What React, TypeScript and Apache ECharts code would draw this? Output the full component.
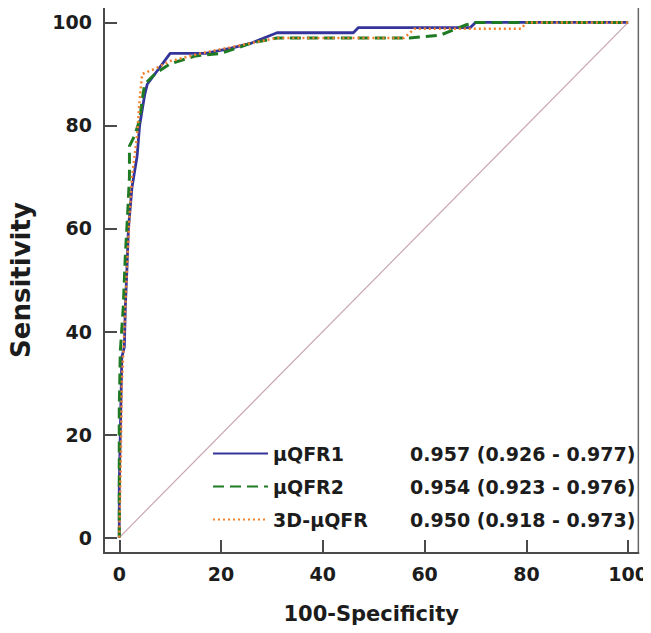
import React, { useEffect, useRef } from "react";
import * as echarts from "echarts";

const tickValues = [0, 20, 40, 60, 80, 100];
const seriesNames = ["μQFR1", "μQFR2", "3D-μQFR"];
const aucTexts = ["0.957 (0.926 - 0.977)", "0.954 (0.923 - 0.976)", "0.950 (0.918 - 0.973)"];

const q1Points: number[][] = [
  [0, 0], [0, 10], [0.3, 25], [0.5, 35], [1, 37], [1.2, 45], [1.5, 52], [1.8, 60],
  [2.5, 68], [3, 71], [3.5, 74], [4, 80], [5, 86], [5.5, 88], [7, 90], [10, 94],
  [17, 94], [22, 95], [26, 96], [31, 98], [46, 98], [47, 99], [69, 99], [70, 100], [100, 100],
];
const q2Points: number[][] = [
  [0, 0], [0, 12], [0, 25], [0.2, 36], [0.8, 45], [1.2, 55], [1.6, 62], [2, 70],
  [2, 76], [3, 78], [4, 81], [4.5, 85], [5, 88], [7, 90], [10, 92], [15, 93.5],
  [20, 94], [26, 96], [31, 97], [57, 97], [63, 97.5], [68, 99.5], [70, 100], [100, 100],
];
const q3Points: number[][] = [
  [0, 0], [0.3, 15], [0.5, 30], [1, 40], [1.5, 52], [2, 62], [2.5, 70], [3.5, 78],
  [4, 85], [4.5, 90], [7, 91], [10, 92.5], [16, 94], [21, 95], [26, 96], [31, 97],
  [56, 97], [58, 98.8], [79, 98.8], [80, 100], [100, 100],
];
const diagonal: number[][] = [[0, 0], [100, 100]];

const FONT = "DejaVu Sans";
const TXT = "#1c1c1c";

export default function App() {
  const ref = useRef<HTMLDivElement>(null);
  useEffect(() => {
    if (!ref.current) return;
    const chart = echarts.init(ref.current, null, { renderer: "svg" });
    const auc: Record<string, string> = {};
    seriesNames.forEach((n, i) => (auc[n] = aucTexts[i]));
    const axisCommon = {
      type: "value" as const,
      nameLocation: "middle" as const,
      splitLine: { show: false },
      axisLine: { show: true, onZero: false, lineStyle: { color: "#4a4a4a", width: 2 } },
      axisTick: { show: true, inside: true, length: 13, customValues: tickValues, lineStyle: { color: "#4a4a4a", width: 2 } },
      axisLabel: { customValues: tickValues, fontFamily: FONT, fontWeight: "bold", fontSize: 19, color: TXT },
    };
    const richText = { fontFamily: FONT, fontWeight: "bold", fontSize: 19, color: TXT, lineHeight: 21 };
    chart.setOption({
      animation: false,
      backgroundColor: "#ffffff",
      grid: { left: 104, right: 3, top: 7, bottom: 80, show: true, borderColor: "#666", borderWidth: 1.5 },
      xAxis: {
        ...axisCommon,
        min: -3,
        max: 102,
        name: "100-Specificity",
        nameGap: 50,
        nameTextStyle: { fontFamily: FONT, fontWeight: "bold", fontSize: 21, color: TXT },
        axisLabel: { ...axisCommon.axisLabel, margin: 11 },
      },
      yAxis: {
        ...axisCommon,
        min: -3,
        max: 103,
        name: "Sensitivity",
        nameGap: 70,
        nameTextStyle: { fontFamily: FONT, fontWeight: "bold", fontSize: 26, color: TXT },
        axisLabel: { ...axisCommon.axisLabel, margin: 12 },
      },
      legend: {
        data: seriesNames,
        orient: "vertical",
        left: 207,
        top: 438,
        itemWidth: 55,
        itemHeight: 20,
        itemGap: 12,
        itemStyle: { opacity: 0 },
        formatter: (name: string) => `{n|${name}}{v|${auc[name]}}`,
        textStyle: {
          ...richText,
          rich: {
            n: { ...richText, width: 137 },
            v: { ...richText },
          },
        },
      },
      series: [
        {
          type: "line",
          data: diagonal,
          symbol: "none",
          silent: true,
          lineStyle: { color: "#c9a6b1", width: 1.2 },
          z: 1,
        },
        {
          name: seriesNames[0],
          type: "line",
          data: q1Points,
          symbol: "none",
          color: "#34349a",
          lineStyle: { color: "#34349a", width: 2.8 },
          z: 3,
        },
        {
          name: seriesNames[1],
          type: "line",
          data: q2Points,
          symbol: "none",
          color: "#1f7a24",
          lineStyle: { color: "#1f7a24", width: 3, type: [11, 6] },
          z: 4,
        },
        {
          name: seriesNames[2],
          type: "line",
          data: q3Points,
          symbol: "none",
          color: "#f3822f",
          lineStyle: { color: "#f3822f", width: 2.5, type: [2, 3] },
          z: 5,
        },
      ],
    });
    return () => chart.dispose();
  }, []);
  return <div ref={ref} style={{ width: 651, height: 633, margin: -8 }} />;
}
